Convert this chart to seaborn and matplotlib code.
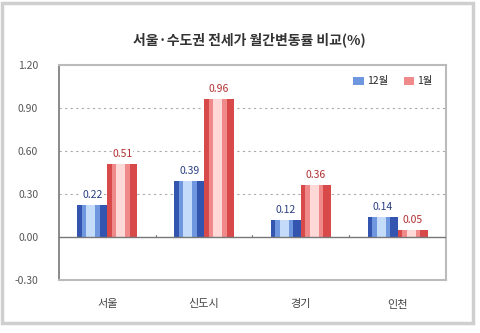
import matplotlib
matplotlib.use("Agg")
import matplotlib.pyplot as plt
import seaborn as sns
import pandas as pd
from matplotlib.patches import Rectangle

categories = ["서울", "신도시", "경기", "인천"]
series_names = ["12월", "1월"]
dec_values = [0.22, 0.39, 0.12, 0.14]
jan_values = [0.51, 0.96, 0.36, 0.05]
yticks = [-0.30, 0.00, 0.30, 0.60, 0.90, 1.20]
title = "서울·수도권 전세가 월간변동률 비교(%)"

sns.set_theme(style="white")
plt.rcParams['font.family'] = ['Noto Sans CJK KR', 'DejaVu Sans']

df = pd.DataFrame({
    "region": categories * 2,
    "series": [series_names[0]] * 4 + [series_names[1]] * 4,
    "value": dec_values + jan_values,
})

dark = {"12월": "#3355b0", "1월": "#d84a4a"}
mid = {"12월": "#6f97e0", "1월": "#f08a8a"}
light = {"12월": "#c4dcfa", "1월": "#ffd8d8"}
text_col = {"12월": "#2a3f80", "1월": "#b03030"}

fig = plt.figure(figsize=(4.8, 3.33), dpi=100)
fig.patch.set_facecolor("white")
# outer frame
fig.add_artist(Rectangle((0.005, 0.03), 0.98, 0.96, transform=fig.transFigure,
                         fill=False, edgecolor="#cfcfcf", linewidth=2.5))
ax = fig.add_axes([0.123, 0.159, 0.806, 0.646])

sns.barplot(data=df, x="region", y="value", hue="series", order=categories,
            hue_order=series_names, palette=mid, width=0.62, ax=ax,
            edgecolor="none", linewidth=0, dodge=True, legend=True)

# gradient-like overlay on each bar
for cont, name in zip(ax.containers, series_names):
    vals = dec_values if name == "12월" else jan_values
    for patch, v in zip(cont, vals):
        x0, y0 = patch.get_x(), patch.get_y()
        w, h = patch.get_width(), patch.get_height()
        patch.set_facecolor(dark[name])
        ax.add_patch(Rectangle((x0 + w * 0.15, y0), w * 0.6, h,
                               facecolor=mid[name], edgecolor="none", zorder=patch.get_zorder() + 0.1))
        ax.add_patch(Rectangle((x0 + w * 0.3, y0), w * 0.3, h,
                               facecolor=light[name], edgecolor="none", zorder=patch.get_zorder() + 0.2))
        ax.text(x0 + w / 2, y0 + h + 0.035, f"{v:.2f}", ha="center", va="bottom",
                fontsize=7.5, color=text_col[name], zorder=5,
                bbox=dict(facecolor="white", edgecolor="none", pad=0.5))

ax.set_ylim(-0.30, 1.20)
ax.set_xlim(-0.5, 3.5)
ax.set_yticks(yticks)
ax.set_yticklabels([f"{t:.2f}" for t in yticks], fontsize=7.5, color="#555555")
ax.tick_params(axis="y", length=3, color="#666666", pad=12)
ax.tick_params(axis="x", length=0, pad=14, labelsize=8, labelcolor="#444444")
ax.set_xlabel("")
ax.set_ylabel("")
for yv in [0.30, 0.60, 0.90]:
    ax.axhline(yv, color="#aaaaaa", linestyle=(0, (2, 3)), linewidth=0.8, zorder=0)
ax.axhline(0, color="#777777", linewidth=1.0, zorder=3)
for xb in [0.5, 1.5, 2.5]:
    ax.plot([xb, xb], [0, 0.012], color="#777777", linewidth=0.8, zorder=3)

for side in ["top", "right", "bottom"]:
    ax.spines[side].set_color("#bbbbbb")
    ax.spines[side].set_linewidth(1.5)
ax.spines["left"].set_color("#777777")
ax.spines["left"].set_linewidth(1.2)

handles, labels = ax.get_legend_handles_labels()
for hdl, name in zip(handles, series_names):
    hdl.set_facecolor(mid[name])
ax.legend(handles, labels, loc="upper right", ncol=2, frameon=False, fontsize=7.5,
          handlelength=1.0, handleheight=0.9, columnspacing=1.5, handletextpad=0.3,
          bbox_to_anchor=(0.99, 0.99))

fig.text(0.52, 0.88, title, ha="center", va="center", fontsize=10, fontweight="bold", color="#333333")

fig.savefig("out.png", dpi=100)
